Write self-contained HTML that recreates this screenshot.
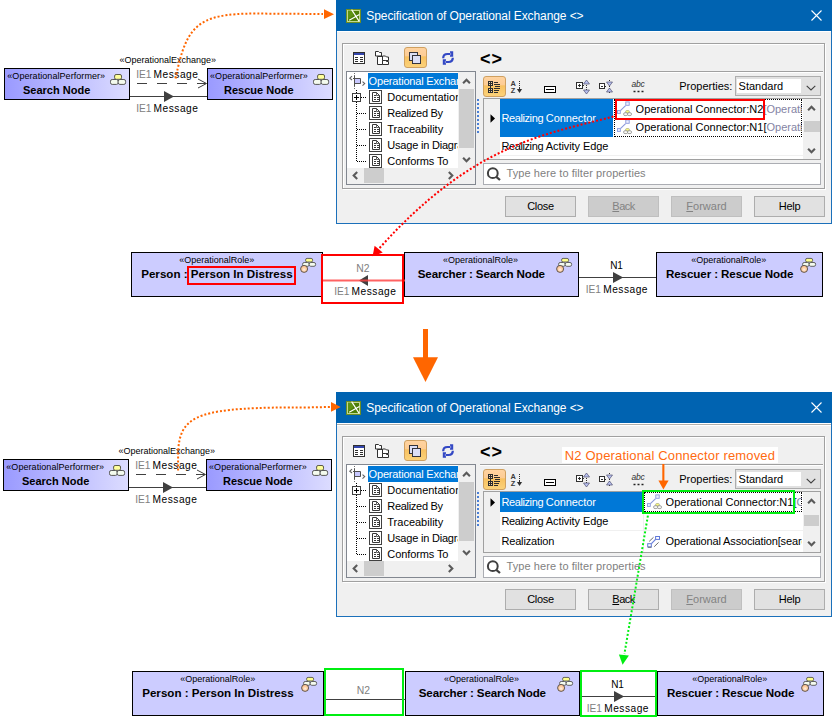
<!DOCTYPE html>
<html lang="en">
<head>
<meta charset="utf-8">
<title>Specification of Operational Exchange</title>
<style>
html,body{margin:0;padding:0;background:#fff;}
#root{position:relative;width:832px;height:727px;overflow:hidden;background:#fff;font-family:"Liberation Sans",sans-serif;}
.t{position:absolute;white-space:nowrap;}
.r{position:absolute;box-sizing:border-box;}
.abs{position:absolute;left:0;top:0;}
svg{position:absolute;overflow:visible;}
.dlg{position:absolute;width:496px;height:224px;}

.node{border:1px solid #000;background:linear-gradient(90deg,#9a9aff 0%,#dcdcff 100%);}
.role{border:1px solid #000;background:#ccccff;}
.st{font-size:9px;}

.dlg{background:#f0f0f0;font-size:11px;}
.tb{background:#0063b1;}
.btn{border:1px solid #adadad;background:#e1e1e1;text-align:center;font-size:11px;line-height:19px;color:#000;}
.btn.dis{border-color:#bfbfbf;background:#cccccc;color:#838383;}
.selbtn{border:1px solid #cfa060;border-radius:3px;background:linear-gradient(180deg,#ffd3a0 0%,#fdcc94 42%,#f8c160 46%,#fbd27a 100%);}
.u{text-decoration:underline;}
</style>
</head>
<body>
<div id="root">
<div class="abs" style="left:0px;top:0px"><div class="r node" style="left:4px;top:68px;width:126px;height:32px;"></div><div class="r node" style="left:207px;top:68px;width:126px;height:32px;"></div><div class="t " style="left:7.3px;top:72px;font-size:9px;line-height:9px;color:#000;letter-spacing:0.06px;">«OperationalPerformer»</div><div class="t " style="left:23.0px;top:85px;font-size:11px;line-height:11px;color:#000;font-weight:bold;">Search Node</div><div class="t " style="left:210.0px;top:72px;font-size:9px;line-height:9px;color:#000;letter-spacing:0.06px;">«OperationalPerformer»</div><div class="t " style="left:224.0px;top:85px;font-size:11px;line-height:11px;color:#000;font-weight:bold;">Rescue Node</div><svg style="left:110px;top:74px" width="17" height="12" viewBox="0 0 17 12">
<rect x="4.6" y="0.5" width="6.9" height="4.8" rx="1.5" fill="#ffff9c" stroke="#5c5c48" stroke-width="1"/>
<rect x="0.5" y="5.5" width="7.7" height="4.9" rx="1.7" fill="#f4fbee" stroke="#585858" stroke-width="1"/>
<rect x="8.2" y="5.5" width="7.4" height="4.9" rx="1.7" fill="#f4fbee" stroke="#585858" stroke-width="1"/>
</svg><svg style="left:313px;top:74px" width="17" height="12" viewBox="0 0 17 12">
<rect x="4.6" y="0.5" width="6.9" height="4.8" rx="1.5" fill="#ffff9c" stroke="#5c5c48" stroke-width="1"/>
<rect x="0.5" y="5.5" width="7.7" height="4.9" rx="1.7" fill="#f4fbee" stroke="#585858" stroke-width="1"/>
<rect x="8.2" y="5.5" width="7.4" height="4.9" rx="1.7" fill="#f4fbee" stroke="#585858" stroke-width="1"/>
</svg><div class="t " style="left:119.4px;top:56px;font-size:9px;line-height:9px;color:#000;">«OperationalExchange»</div><div class="t " style="left:136.2px;top:70px;font-size:10.2px;line-height:10.2px;color:#000;"><span style="color:#808080;letter-spacing:-0.05px">IE1</span><span style="letter-spacing:0.5px;margin-left:-1.1px"> Message</span></div><div class="t " style="left:136.2px;top:104px;font-size:10.2px;line-height:10.2px;color:#000;"><span style="color:#808080;letter-spacing:-0.05px">IE1</span><span style="letter-spacing:0.5px;margin-left:-1.1px"> Message</span></div><svg style="left:0;top:0" width="340" height="120" viewBox="0 0 340 120">
<line x1="137" y1="83.5" x2="206" y2="83.5" stroke="#404040" stroke-width="1" stroke-dasharray="10 10"/>
<polyline points="198,79 206.5,83.5 198,88" fill="none" stroke="#404040" stroke-width="1"/>
<line x1="130" y1="96.5" x2="207" y2="96.5" stroke="#404040" stroke-width="1"/>
<polygon points="164,91 174,96.5 164,102" fill="#404040"/>
</svg></div><div class="abs" style="left:-1px;top:391px"><div class="r node" style="left:4px;top:68px;width:126px;height:32px;"></div><div class="r node" style="left:207px;top:68px;width:126px;height:32px;"></div><div class="t " style="left:7.3px;top:72px;font-size:9px;line-height:9px;color:#000;letter-spacing:0.06px;">«OperationalPerformer»</div><div class="t " style="left:23.0px;top:85px;font-size:11px;line-height:11px;color:#000;font-weight:bold;">Search Node</div><div class="t " style="left:210.0px;top:72px;font-size:9px;line-height:9px;color:#000;letter-spacing:0.06px;">«OperationalPerformer»</div><div class="t " style="left:224.0px;top:85px;font-size:11px;line-height:11px;color:#000;font-weight:bold;">Rescue Node</div><svg style="left:110px;top:74px" width="17" height="12" viewBox="0 0 17 12">
<rect x="4.6" y="0.5" width="6.9" height="4.8" rx="1.5" fill="#ffff9c" stroke="#5c5c48" stroke-width="1"/>
<rect x="0.5" y="5.5" width="7.7" height="4.9" rx="1.7" fill="#f4fbee" stroke="#585858" stroke-width="1"/>
<rect x="8.2" y="5.5" width="7.4" height="4.9" rx="1.7" fill="#f4fbee" stroke="#585858" stroke-width="1"/>
</svg><svg style="left:313px;top:74px" width="17" height="12" viewBox="0 0 17 12">
<rect x="4.6" y="0.5" width="6.9" height="4.8" rx="1.5" fill="#ffff9c" stroke="#5c5c48" stroke-width="1"/>
<rect x="0.5" y="5.5" width="7.7" height="4.9" rx="1.7" fill="#f4fbee" stroke="#585858" stroke-width="1"/>
<rect x="8.2" y="5.5" width="7.4" height="4.9" rx="1.7" fill="#f4fbee" stroke="#585858" stroke-width="1"/>
</svg><div class="t " style="left:119.4px;top:56px;font-size:9px;line-height:9px;color:#000;">«OperationalExchange»</div><div class="t " style="left:136.2px;top:70px;font-size:10.2px;line-height:10.2px;color:#000;"><span style="color:#808080;letter-spacing:-0.05px">IE1</span><span style="letter-spacing:0.5px;margin-left:-1.1px"> Message</span></div><div class="t " style="left:136.2px;top:104px;font-size:10.2px;line-height:10.2px;color:#000;"><span style="color:#808080;letter-spacing:-0.05px">IE1</span><span style="letter-spacing:0.5px;margin-left:-1.1px"> Message</span></div><svg style="left:0;top:0" width="340" height="120" viewBox="0 0 340 120">
<line x1="137" y1="83.5" x2="206" y2="83.5" stroke="#404040" stroke-width="1" stroke-dasharray="10 10"/>
<polyline points="198,79 206.5,83.5 198,88" fill="none" stroke="#404040" stroke-width="1"/>
<line x1="130" y1="96.5" x2="207" y2="96.5" stroke="#404040" stroke-width="1"/>
<polygon points="164,91 174,96.5 164,102" fill="#404040"/>
</svg></div><div class="dlg" style="left:336px;top:0px;height:224px"><div class="r " style="left:0px;top:0px;width:496px;height:224px;border:1px solid #1b70ba;"></div><div class="r tb" style="left:0px;top:0px;width:496px;height:31px;"></div><div class="r " style="left:1px;top:31px;width:494px;height:1px;background:#fff;"></div><svg style="left:10px;top:9px" width="15" height="14" viewBox="0 0 15 14">
<rect x="0" y="0" width="15" height="14" fill="#6e8e22"/>
<rect x="1.5" y="1.5" width="12" height="11" fill="#4e7e06" stroke="#c2d890"/>
<path d="M2 1.5h5v5l-5 4z" fill="#5e9212"/>
<path d="M5.6 0.6L13.2 12.4M3.2 11.2L13.4 5.4" stroke="#fff" stroke-width="1.15" fill="none"/>
</svg><div class="t " style="left:30.3px;top:10px;font-size:12px;line-height:12px;color:#fff;letter-spacing:-0.09px;">Specification of Operational Exchange &lt;&gt;</div><svg style="left:475px;top:10px" width="11" height="11" viewBox="0 0 11 11">
<path d="M0.5 0.5L10.5 10.5M10.5 0.5L0.5 10.5" stroke="#fff" stroke-width="1.1" fill="none"/></svg><div class="abs" style="top:0px"><div class="r " style="left:7px;top:44px;width:483px;height:146px;border:1px solid #fff;"></div><div class="r " style="left:6px;top:43px;width:483px;height:146px;border:1px solid #a0a0a0;"></div><svg style="left:17px;top:52px" width="12" height="12" viewBox="0 0 12 12">
<rect x="0.5" y="0.5" width="11" height="11" fill="#fff" stroke="#303030"/>
<rect x="1" y="1" width="10" height="2" fill="#3446ae"/>
<path d="M2 5.5h3M7 5.5h3M2 7.5h3M7 7.5h3M2 9.5h3M7 9.5h3" stroke="#303030" fill="none"/>
</svg><svg style="left:39px;top:51px" width="15" height="14" viewBox="0 0 15 14">
<path d="M2.5 5.5h5v8h-5z" fill="#fff" stroke="#303030"/>
<path d="M0.5 0.5h3l1 1h2v3.5h-6z" fill="#fff" stroke="#303030"/>
<path d="M7.5 5h3l1 1h2v3.5h-6z" fill="#fff" stroke="#303030"/>
<path d="M7.5 9.5h3l1 1h2v3h-6z" fill="#fff" stroke="#303030"/>
</svg><div class="r selbtn" style="left:68px;top:47px;width:23px;height:21px;"></div><svg style="left:73px;top:52px" width="12" height="12" viewBox="0 0 12 12">
<rect x="0.5" y="0.5" width="8" height="8" fill="#dcdff6" stroke="#34343c"/>
<rect x="3.5" y="3.5" width="8" height="8" fill="#dcdff6" stroke="#34343c"/>
</svg><svg style="left:106px;top:51px" width="12" height="14" viewBox="0 0 12 14">
<path d="M1.2 7.2q0-4.2 4.3-4.2h3" stroke="#3348c4" stroke-width="2.2" fill="none"/>
<path d="M8 0.2h3.2v5.6h-3.2l0-1.2 1.4-1.6-1.4-1.6z" fill="#3348c4"/>
<path d="M10.8 6.8q0 4.2-4.3 4.2h-3" stroke="#3348c4" stroke-width="2.2" fill="none"/>
<path d="M4 13.8h-3.2v-5.6h3.2l0 1.2-1.4 1.6 1.4 1.6z" fill="#3348c4"/>
</svg><div class="t " style="left:144px;top:50px;font-size:18px;line-height:18px;color:#000;font-weight:bold;letter-spacing:1px;">&lt;&gt;</div><div class="r " style="left:10px;top:71px;width:130px;height:114px;border:1px solid #828790;background:#f0f0f0;"></div><div class="r " style="left:11px;top:72px;width:111px;height:96px;background:#fff;overflow:hidden;"></div><div class="r " style="left:32px;top:73px;width:90px;height:16px;background:#0078d7;"></div><div class="t " style="left:32.6px;top:76px;font-size:11px;line-height:11px;color:#fff;width:89.4px;overflow:hidden;letter-spacing:-0.18px;">Operational Exchange</div><svg style="left:13px;top:74px" width="17" height="16" viewBox="0 0 17 16">
<path d="M5.5 -1v3M5.5 12v3" stroke="#707070" stroke-dasharray="1 1" fill="none"/>
<rect x="6" y="4.5" width="5" height="5" fill="#c8c8ff"/>
<path d="M5.5 2v10M4 4.5h7.5v5.2M5.5 9.5h6" stroke="#505050" fill="none"/>
<path d="M3 2.2L0.8 4.2 3 6M13.5 7.6l2.2 2-2.2 2" stroke="#606060" stroke-width="1.1" fill="none"/>
</svg><svg style="left:0;top:0" width="140" height="190" viewBox="0 0 140 190">
<path d="M20.5 90v72" stroke="#000" stroke-dasharray="1 1" fill="none"/>
<path d="M25 97.5h5M21 113.5h9M21 129.5h9M21 145.5h9M21 161.5h9" stroke="#000" stroke-dasharray="1 1" fill="none"/>
<rect x="16.5" y="93.5" width="8" height="8" fill="#fff" stroke="#404040"/>
<path d="M18 97.5h5M20.5 95v5" stroke="#000" fill="none"/>
</svg><div class="r" style="left:0;top:72px;width:122px;height:96px;overflow:hidden;"><div class="abs" style="top:-72px"><svg style="left:33px;top:90px" width="13" height="14" viewBox="0 0 13 14">
<rect x="0.5" y="0.5" width="12" height="13" fill="#fff" stroke="#404040"/>
<path d="M3.5 2.5h4l3 3v6h-7z" fill="#fff" stroke="#383838"/>
<path d="M7.5 2.5v3h3" fill="none" stroke="#383838" stroke-width="0.8"/>
<g shape-rendering="crispEdges"><path d="M5 5.5h2M5 7.5h2M8 7.5h2M5 9.5h2M8 9.5h2" stroke="#383838" fill="none"/></g>
</svg><div class="t " style="left:51.3px;top:92px;font-size:11px;line-height:11px;color:#000;">Documentation</div><svg style="left:33px;top:106px" width="13" height="14" viewBox="0 0 13 14">
<rect x="0.5" y="0.5" width="12" height="13" fill="#fff" stroke="#404040"/>
<path d="M3.5 2.5h4l3 3v6h-7z" fill="#fff" stroke="#383838"/>
<path d="M7.5 2.5v3h3" fill="none" stroke="#383838" stroke-width="0.8"/>
<g shape-rendering="crispEdges"><path d="M5 5.5h2M5 7.5h2M8 7.5h2M5 9.5h2M8 9.5h2" stroke="#383838" fill="none"/></g>
</svg><div class="t " style="left:51.3px;top:108px;font-size:11px;line-height:11px;color:#000;letter-spacing:-0.3px;">Realized By</div><svg style="left:33px;top:122px" width="13" height="14" viewBox="0 0 13 14">
<rect x="0.5" y="0.5" width="12" height="13" fill="#fff" stroke="#404040"/>
<path d="M3.5 2.5h4l3 3v6h-7z" fill="#fff" stroke="#383838"/>
<path d="M7.5 2.5v3h3" fill="none" stroke="#383838" stroke-width="0.8"/>
<g shape-rendering="crispEdges"><path d="M5 5.5h2M5 7.5h2M8 7.5h2M5 9.5h2M8 9.5h2" stroke="#383838" fill="none"/></g>
</svg><div class="t " style="left:51.3px;top:124px;font-size:11px;line-height:11px;color:#000;">Traceability</div><svg style="left:33px;top:138px" width="13" height="14" viewBox="0 0 13 14">
<rect x="0.5" y="0.5" width="12" height="13" fill="#fff" stroke="#404040"/>
<path d="M3.5 2.5h4l3 3v6h-7z" fill="#fff" stroke="#383838"/>
<path d="M7.5 2.5v3h3" fill="none" stroke="#383838" stroke-width="0.8"/>
<g shape-rendering="crispEdges"><path d="M5 5.5h2M5 7.5h2M8 7.5h2M5 9.5h2M8 9.5h2" stroke="#383838" fill="none"/></g>
</svg><div class="t " style="left:51.3px;top:140px;font-size:11px;line-height:11px;color:#000;letter-spacing:-0.2px;">Usage in Diagrams</div><svg style="left:33px;top:154px" width="13" height="14" viewBox="0 0 13 14">
<rect x="0.5" y="0.5" width="12" height="13" fill="#fff" stroke="#404040"/>
<path d="M3.5 2.5h4l3 3v6h-7z" fill="#fff" stroke="#383838"/>
<path d="M7.5 2.5v3h3" fill="none" stroke="#383838" stroke-width="0.8"/>
<g shape-rendering="crispEdges"><path d="M5 5.5h2M5 7.5h2M8 7.5h2M5 9.5h2M8 9.5h2" stroke="#383838" fill="none"/></g>
</svg><div class="t " style="left:51.3px;top:156px;font-size:11px;line-height:11px;color:#000;letter-spacing:-0.1px;">Conforms To</div></div></div><div class="r " style="left:122px;top:72px;width:17px;height:96px;background:#f0f0f0;"></div><div class="r " style="left:123px;top:89px;width:15px;height:59px;background:#cdcdcd;"></div><svg style="left:126px;top:78px" width="9" height="6" viewBox="0 0 9 6"><path d="M1.1 5.2L4.5 1.7 7.9 5.2" stroke="#5a5a5a" stroke-width="2.1" fill="none"/></svg><svg style="left:126px;top:157px" width="9" height="6" viewBox="0 0 9 6"><path d="M1.1 0.8L4.5 4.3 7.9 0.8" stroke="#5a5a5a" stroke-width="2.1" fill="none"/></svg><div class="r " style="left:11px;top:168px;width:128px;height:16px;background:#f0f0f0;"></div><div class="r " style="left:28px;top:168px;width:20px;height:15px;background:#cdcdcd;"></div><svg style="left:16px;top:171px" width="6" height="9" viewBox="0 0 6 9"><path d="M5.2 1.1L1.7 4.5 5.2 7.9" stroke="#5a5a5a" stroke-width="2.1" fill="none"/></svg><svg style="left:112px;top:171px" width="6" height="9" viewBox="0 0 6 9"><path d="M0.8 1.1L4.3 4.5 0.8 7.9" stroke="#5a5a5a" stroke-width="2.1" fill="none"/></svg><svg style="left:141px;top:99px" width="2" height="36" viewBox="0 0 2 36"><rect x="0" y="0" width="2" height="2" fill="#4a7fd6"/><rect x="0" y="4" width="2" height="2" fill="#4a7fd6"/><rect x="0" y="8" width="2" height="2" fill="#4a7fd6"/><rect x="0" y="12" width="2" height="2" fill="#4a7fd6"/><rect x="0" y="16" width="2" height="2" fill="#4a7fd6"/><rect x="0" y="20" width="2" height="2" fill="#4a7fd6"/><rect x="0" y="24" width="2" height="2" fill="#4a7fd6"/><rect x="0" y="28" width="2" height="2" fill="#4a7fd6"/><rect x="0" y="32" width="2" height="2" fill="#4a7fd6"/></svg><div class="r " style="left:144px;top:71px;width:343px;height:1px;background:#a0a0a0;"></div><div class="r " style="left:144px;top:72px;width:343px;height:1px;background:#fff;"></div><div class="r selbtn" style="left:147px;top:76px;width:23px;height:21px;"></div><svg style="left:152px;top:81px" width="13" height="12" viewBox="0 0 13 12" shape-rendering="crispEdges">
<path d="M0.5 0.5h4v4h-4zM0.5 7.5h4v4h-4z" fill="#f8d8a8" stroke="#2c2c2c"/>
<path d="M2.5 0.5v11M0.5 2.5h4M0.5 9.5h4" stroke="#2c2c2c" fill="none"/>
<path d="M6 1.5h4M6 3.5h6M7 5.5h5M6 7.5h6M6 9.5h5M6 11.5h4" stroke="#2c2c2c" fill="none"/>
</svg><svg style="left:174px;top:80px" width="13" height="14" viewBox="0 0 13 14">
<text x="0.6" y="6.4" font-family="Liberation Sans, sans-serif" font-size="7.4" font-weight="bold" fill="#3a3a3a">A</text>
<text x="0.8" y="12.8" font-family="Liberation Sans, sans-serif" font-size="7.4" font-weight="bold" fill="#3a3a3a">Z</text>
<path d="M9.5 1v7" stroke="#303030" stroke-dasharray="1 1" fill="none"/>
<path d="M9.5 7v3" stroke="#303030" fill="none"/>
<path d="M6.9 9h5.2l-2.6 4z" fill="#303030"/>
</svg><svg style="left:208px;top:86px" width="12" height="7" viewBox="0 0 12 7">
<rect x="0.5" y="0.5" width="11" height="6" fill="#fff" stroke="#000"/>
<path d="M2 3.5h8" stroke="#000" fill="none"/>
</svg><svg style="left:240px;top:80px" width="15" height="14" viewBox="0 0 15 14">
<rect x="0.5" y="2.5" width="6" height="6" fill="#fff" stroke="#303030"/>
<path d="M2 5.5h3M3.5 4v3" stroke="#303030" fill="none"/>
<path d="M7 5.5h2M10.5 3v8" stroke="#303030" stroke-dasharray="1 1" fill="none"/>
<path d="M10.5 0l3 4h-6z" fill="#b8c0f0" stroke="#505070" stroke-width="0.7"/>
<path d="M10.5 14l3-4h-6z" fill="#b8c0f0" stroke="#505070" stroke-width="0.7"/>
</svg><svg style="left:263px;top:80px" width="15" height="14" viewBox="0 0 15 14">
<rect x="0.5" y="3.5" width="5" height="5" fill="#fff" stroke="#303030"/>
<path d="M2 6.5h2" stroke="#303030" fill="none"/>
<path d="M6 6.5h2M10.5 0v14" stroke="#303030" stroke-dasharray="1 1" fill="none"/>
<path d="M10.5 6l3-4h-6z" fill="#b8c0f0" stroke="#505070" stroke-width="0.7"/>
<path d="M10.5 8l3 4h-6z" fill="#b8c0f0" stroke="#505070" stroke-width="0.7"/>
</svg><div class="t " style="left:295.5px;top:80px;font-size:8.5px;line-height:8.5px;color:#303030;font-style:italic;letter-spacing:-0.2px;">abc</div><svg style="left:297px;top:90px" width="11" height="3" viewBox="0 0 11 3"><path d="M0.5 1.5h2M4.5 1.5h2M8.5 1.5h2" stroke="#202020" stroke-width="1.6" fill="none"/></svg><div class="t " style="left:343.2px;top:81px;font-size:11px;line-height:11px;color:#000;">Properties:</div><div class="r " style="left:399px;top:76px;width:86px;height:20px;border:1px solid #adadad;background:#e1e1e1;"></div><div class="r " style="left:401px;top:79px;width:64px;height:14px;background:#fff;"></div><div class="t " style="left:402.6px;top:81px;font-size:11px;line-height:11px;color:#000;">Standard</div><svg style="left:470px;top:85px" width="10" height="6" viewBox="0 0 10 6"><path d="M0.7 0.8L5 5 9.3 0.8" stroke="#404040" stroke-width="1.1" fill="none"/></svg><div class="r " style="left:147px;top:98px;width:338px;height:62px;border:1px solid #a0a0a0;background:#fff;"></div><div class="r " style="left:148px;top:99px;width:16px;height:60px;background:#f0f0f0;"></div><div class="r " style="left:467px;top:99px;width:17px;height:60px;background:#f0f0f0;"></div><svg style="left:471px;top:105px" width="9" height="6" viewBox="0 0 9 6"><path d="M1.1 5.2L4.5 1.7 7.9 5.2" stroke="#5a5a5a" stroke-width="2.1" fill="none"/></svg><svg style="left:471px;top:148px" width="9" height="6" viewBox="0 0 9 6"><path d="M1.1 0.8L4.5 4.3 7.9 0.8" stroke="#5a5a5a" stroke-width="2.1" fill="none"/></svg><div class="r " style="left:468px;top:121px;width:16px;height:11px;background:#cdcdcd;"></div><div class="r " style="left:164px;top:99px;width:113px;height:38px;background:#0078d7;"></div><svg style="left:154px;top:114px" width="6" height="9" viewBox="0 0 6 9"><path d="M0.5 0.3L5 4.5 0.5 8.7z" fill="#000"/></svg><div class="t " style="left:165.4px;top:113px;font-size:11px;line-height:11px;color:#fff;letter-spacing:-0.07px;"><span style="letter-spacing:-0.39px">Realizing </span>Connector</div><div class="t " style="left:165.4px;top:141px;font-size:11px;line-height:11px;color:#000;letter-spacing:-0.08px;"><span style="letter-spacing:-0.39px">Realizing </span>Activity Edge</div><div class="r " style="left:164px;top:155px;width:303px;height:1px;background:#f0f0f0;"></div><div class="r " style="left:278px;top:99px;width:188px;height:38px;border:1px dotted #000;"></div><svg style="left:280px;top:101px" width="16" height="16" viewBox="0 0 16 16">
<path d="M4.4 9.6L9.6 4.6" stroke="#8a98dc" stroke-width="1.1" fill="none"/>
<rect x="9.8" y="0.9" width="3.4" height="3.4" fill="#eef0ff" stroke="#8a98dc" stroke-width="0.9"/>
<rect x="1.5" y="9.6" width="2.8" height="2.8" fill="#eef0ff" stroke="#8a98dc" stroke-width="0.9"/>
<rect x="9.6" y="9.6" width="3.8" height="2.4" rx="1.1" fill="#ffff80" stroke="#a0a080" stroke-width="0.7"/>
<rect x="7.6" y="11.7" width="4" height="2.9" rx="1.4" fill="#fafaf4" stroke="#8c8c8c" stroke-width="0.8"/>
<rect x="11.5" y="11.7" width="4" height="2.9" rx="1.4" fill="#fafaf4" stroke="#8c8c8c" stroke-width="0.8"/>
</svg><svg style="left:280px;top:119px" width="16" height="16" viewBox="0 0 16 16">
<path d="M4.4 9.6L9.6 4.6" stroke="#8a98dc" stroke-width="1.1" fill="none"/>
<rect x="9.8" y="0.9" width="3.4" height="3.4" fill="#eef0ff" stroke="#8a98dc" stroke-width="0.9"/>
<rect x="1.5" y="9.6" width="2.8" height="2.8" fill="#eef0ff" stroke="#8a98dc" stroke-width="0.9"/>
<rect x="9.6" y="9.6" width="3.8" height="2.4" rx="1.1" fill="#ffff80" stroke="#a0a080" stroke-width="0.7"/>
<rect x="7.6" y="11.7" width="4" height="2.9" rx="1.4" fill="#fafaf4" stroke="#8c8c8c" stroke-width="0.8"/>
<rect x="11.5" y="11.7" width="4" height="2.9" rx="1.4" fill="#fafaf4" stroke="#8c8c8c" stroke-width="0.8"/>
</svg><div class="t " style="left:299.6px;top:104px;font-size:11px;line-height:11px;color:#000;width:166.5px;overflow:hidden;">Operational Connector:N2<span style="color:#8484a4">[Operational</span></div><div class="t " style="left:299.6px;top:122px;font-size:11px;line-height:11px;color:#000;width:166.5px;overflow:hidden;">Operational Connector:N1[<span style="color:#8484a4">Operational</span></div><div class="r " style="left:279px;top:99px;width:150px;height:21px;border:2px solid #ff0000;"></div><div class="r " style="left:147px;top:163px;width:338px;height:22px;border:1px solid #abadb3;background:#fff;"></div><svg style="left:150px;top:167px" width="15" height="14" viewBox="0 0 15 14">
<circle cx="6.8" cy="6.2" r="4.9" fill="none" stroke="#404040" stroke-width="2"/>
<path d="M10.3 9.8L14 13" stroke="#404040" stroke-width="2.2" fill="none"/></svg><div class="t " style="left:170.6px;top:168px;font-size:11px;line-height:11px;color:#7f7f7f;letter-spacing:0.07px;">Type here to filter properties</div><div class="r btn" style="left:169px;top:196px;width:71px;height:21px;"><span style="letter-spacing:-0.3px">Close</span></div><div class="r btn dis" style="left:252px;top:196px;width:71px;height:21px;"><span style="letter-spacing:-0.55px"><span class="u">B</span>ack</span></div><div class="r btn dis" style="left:335px;top:196px;width:71px;height:21px;"><span class="u">F</span>orward</div><div class="r btn" style="left:418px;top:196px;width:71px;height:21px;"><span style="letter-spacing:-0.3px">Help</span></div></div></div><div class="dlg" style="left:336px;top:392px;height:225px"><div class="r " style="left:0px;top:0px;width:496px;height:225px;border:1px solid #1b70ba;"></div><div class="r tb" style="left:0px;top:0px;width:496px;height:31px;"></div><div class="r " style="left:1px;top:31px;width:494px;height:1px;background:#fff;"></div><div class="r " style="left:1px;top:32px;width:494px;height:1px;background:#b4b0aa;"></div><div class="r " style="left:1px;top:33px;width:494px;height:1px;background:#fff;"></div><svg style="left:10px;top:9px" width="15" height="14" viewBox="0 0 15 14">
<rect x="0" y="0" width="15" height="14" fill="#6e8e22"/>
<rect x="1.5" y="1.5" width="12" height="11" fill="#4e7e06" stroke="#c2d890"/>
<path d="M2 1.5h5v5l-5 4z" fill="#5e9212"/>
<path d="M5.6 0.6L13.2 12.4M3.2 11.2L13.4 5.4" stroke="#fff" stroke-width="1.15" fill="none"/>
</svg><div class="t " style="left:30.3px;top:10px;font-size:12px;line-height:12px;color:#fff;letter-spacing:-0.09px;">Specification of Operational Exchange &lt;&gt;</div><svg style="left:475px;top:10px" width="11" height="11" viewBox="0 0 11 11">
<path d="M0.5 0.5L10.5 10.5M10.5 0.5L0.5 10.5" stroke="#fff" stroke-width="1.1" fill="none"/></svg><div class="abs" style="top:1px"><div class="r " style="left:7px;top:44px;width:483px;height:146px;border:1px solid #fff;"></div><div class="r " style="left:6px;top:43px;width:483px;height:146px;border:1px solid #a0a0a0;"></div><svg style="left:17px;top:52px" width="12" height="12" viewBox="0 0 12 12">
<rect x="0.5" y="0.5" width="11" height="11" fill="#fff" stroke="#303030"/>
<rect x="1" y="1" width="10" height="2" fill="#3446ae"/>
<path d="M2 5.5h3M7 5.5h3M2 7.5h3M7 7.5h3M2 9.5h3M7 9.5h3" stroke="#303030" fill="none"/>
</svg><svg style="left:39px;top:51px" width="15" height="14" viewBox="0 0 15 14">
<path d="M2.5 5.5h5v8h-5z" fill="#fff" stroke="#303030"/>
<path d="M0.5 0.5h3l1 1h2v3.5h-6z" fill="#fff" stroke="#303030"/>
<path d="M7.5 5h3l1 1h2v3.5h-6z" fill="#fff" stroke="#303030"/>
<path d="M7.5 9.5h3l1 1h2v3h-6z" fill="#fff" stroke="#303030"/>
</svg><div class="r selbtn" style="left:68px;top:47px;width:23px;height:21px;"></div><svg style="left:73px;top:52px" width="12" height="12" viewBox="0 0 12 12">
<rect x="0.5" y="0.5" width="8" height="8" fill="#dcdff6" stroke="#34343c"/>
<rect x="3.5" y="3.5" width="8" height="8" fill="#dcdff6" stroke="#34343c"/>
</svg><svg style="left:106px;top:51px" width="12" height="14" viewBox="0 0 12 14">
<path d="M1.2 7.2q0-4.2 4.3-4.2h3" stroke="#3348c4" stroke-width="2.2" fill="none"/>
<path d="M8 0.2h3.2v5.6h-3.2l0-1.2 1.4-1.6-1.4-1.6z" fill="#3348c4"/>
<path d="M10.8 6.8q0 4.2-4.3 4.2h-3" stroke="#3348c4" stroke-width="2.2" fill="none"/>
<path d="M4 13.8h-3.2v-5.6h3.2l0 1.2-1.4 1.6 1.4 1.6z" fill="#3348c4"/>
</svg><div class="t " style="left:144px;top:50px;font-size:18px;line-height:18px;color:#000;font-weight:bold;letter-spacing:1px;">&lt;&gt;</div><div class="r " style="left:10px;top:71px;width:130px;height:114px;border:1px solid #828790;background:#f0f0f0;"></div><div class="r " style="left:11px;top:72px;width:111px;height:96px;background:#fff;overflow:hidden;"></div><div class="r " style="left:32px;top:73px;width:90px;height:16px;background:#0078d7;"></div><div class="t " style="left:32.6px;top:76px;font-size:11px;line-height:11px;color:#fff;width:89.4px;overflow:hidden;letter-spacing:-0.18px;">Operational Exchange</div><svg style="left:13px;top:74px" width="17" height="16" viewBox="0 0 17 16">
<path d="M5.5 -1v3M5.5 12v3" stroke="#707070" stroke-dasharray="1 1" fill="none"/>
<rect x="6" y="4.5" width="5" height="5" fill="#c8c8ff"/>
<path d="M5.5 2v10M4 4.5h7.5v5.2M5.5 9.5h6" stroke="#505050" fill="none"/>
<path d="M3 2.2L0.8 4.2 3 6M13.5 7.6l2.2 2-2.2 2" stroke="#606060" stroke-width="1.1" fill="none"/>
</svg><svg style="left:0;top:0" width="140" height="190" viewBox="0 0 140 190">
<path d="M20.5 90v72" stroke="#000" stroke-dasharray="1 1" fill="none"/>
<path d="M25 97.5h5M21 113.5h9M21 129.5h9M21 145.5h9M21 161.5h9" stroke="#000" stroke-dasharray="1 1" fill="none"/>
<rect x="16.5" y="93.5" width="8" height="8" fill="#fff" stroke="#404040"/>
<path d="M18 97.5h5M20.5 95v5" stroke="#000" fill="none"/>
</svg><div class="r" style="left:0;top:72px;width:122px;height:96px;overflow:hidden;"><div class="abs" style="top:-72px"><svg style="left:33px;top:90px" width="13" height="14" viewBox="0 0 13 14">
<rect x="0.5" y="0.5" width="12" height="13" fill="#fff" stroke="#404040"/>
<path d="M3.5 2.5h4l3 3v6h-7z" fill="#fff" stroke="#383838"/>
<path d="M7.5 2.5v3h3" fill="none" stroke="#383838" stroke-width="0.8"/>
<g shape-rendering="crispEdges"><path d="M5 5.5h2M5 7.5h2M8 7.5h2M5 9.5h2M8 9.5h2" stroke="#383838" fill="none"/></g>
</svg><div class="t " style="left:51.3px;top:92px;font-size:11px;line-height:11px;color:#000;">Documentation</div><svg style="left:33px;top:106px" width="13" height="14" viewBox="0 0 13 14">
<rect x="0.5" y="0.5" width="12" height="13" fill="#fff" stroke="#404040"/>
<path d="M3.5 2.5h4l3 3v6h-7z" fill="#fff" stroke="#383838"/>
<path d="M7.5 2.5v3h3" fill="none" stroke="#383838" stroke-width="0.8"/>
<g shape-rendering="crispEdges"><path d="M5 5.5h2M5 7.5h2M8 7.5h2M5 9.5h2M8 9.5h2" stroke="#383838" fill="none"/></g>
</svg><div class="t " style="left:51.3px;top:108px;font-size:11px;line-height:11px;color:#000;letter-spacing:-0.3px;">Realized By</div><svg style="left:33px;top:122px" width="13" height="14" viewBox="0 0 13 14">
<rect x="0.5" y="0.5" width="12" height="13" fill="#fff" stroke="#404040"/>
<path d="M3.5 2.5h4l3 3v6h-7z" fill="#fff" stroke="#383838"/>
<path d="M7.5 2.5v3h3" fill="none" stroke="#383838" stroke-width="0.8"/>
<g shape-rendering="crispEdges"><path d="M5 5.5h2M5 7.5h2M8 7.5h2M5 9.5h2M8 9.5h2" stroke="#383838" fill="none"/></g>
</svg><div class="t " style="left:51.3px;top:124px;font-size:11px;line-height:11px;color:#000;">Traceability</div><svg style="left:33px;top:138px" width="13" height="14" viewBox="0 0 13 14">
<rect x="0.5" y="0.5" width="12" height="13" fill="#fff" stroke="#404040"/>
<path d="M3.5 2.5h4l3 3v6h-7z" fill="#fff" stroke="#383838"/>
<path d="M7.5 2.5v3h3" fill="none" stroke="#383838" stroke-width="0.8"/>
<g shape-rendering="crispEdges"><path d="M5 5.5h2M5 7.5h2M8 7.5h2M5 9.5h2M8 9.5h2" stroke="#383838" fill="none"/></g>
</svg><div class="t " style="left:51.3px;top:140px;font-size:11px;line-height:11px;color:#000;letter-spacing:-0.2px;">Usage in Diagrams</div><svg style="left:33px;top:154px" width="13" height="14" viewBox="0 0 13 14">
<rect x="0.5" y="0.5" width="12" height="13" fill="#fff" stroke="#404040"/>
<path d="M3.5 2.5h4l3 3v6h-7z" fill="#fff" stroke="#383838"/>
<path d="M7.5 2.5v3h3" fill="none" stroke="#383838" stroke-width="0.8"/>
<g shape-rendering="crispEdges"><path d="M5 5.5h2M5 7.5h2M8 7.5h2M5 9.5h2M8 9.5h2" stroke="#383838" fill="none"/></g>
</svg><div class="t " style="left:51.3px;top:156px;font-size:11px;line-height:11px;color:#000;letter-spacing:-0.1px;">Conforms To</div></div></div><div class="r " style="left:122px;top:72px;width:17px;height:96px;background:#f0f0f0;"></div><div class="r " style="left:123px;top:89px;width:15px;height:59px;background:#cdcdcd;"></div><svg style="left:126px;top:78px" width="9" height="6" viewBox="0 0 9 6"><path d="M1.1 5.2L4.5 1.7 7.9 5.2" stroke="#5a5a5a" stroke-width="2.1" fill="none"/></svg><svg style="left:126px;top:157px" width="9" height="6" viewBox="0 0 9 6"><path d="M1.1 0.8L4.5 4.3 7.9 0.8" stroke="#5a5a5a" stroke-width="2.1" fill="none"/></svg><div class="r " style="left:11px;top:168px;width:128px;height:16px;background:#f0f0f0;"></div><div class="r " style="left:28px;top:168px;width:20px;height:15px;background:#cdcdcd;"></div><svg style="left:16px;top:171px" width="6" height="9" viewBox="0 0 6 9"><path d="M5.2 1.1L1.7 4.5 5.2 7.9" stroke="#5a5a5a" stroke-width="2.1" fill="none"/></svg><svg style="left:112px;top:171px" width="6" height="9" viewBox="0 0 6 9"><path d="M0.8 1.1L4.3 4.5 0.8 7.9" stroke="#5a5a5a" stroke-width="2.1" fill="none"/></svg><svg style="left:141px;top:99px" width="2" height="36" viewBox="0 0 2 36"><rect x="0" y="0" width="2" height="2" fill="#4a7fd6"/><rect x="0" y="4" width="2" height="2" fill="#4a7fd6"/><rect x="0" y="8" width="2" height="2" fill="#4a7fd6"/><rect x="0" y="12" width="2" height="2" fill="#4a7fd6"/><rect x="0" y="16" width="2" height="2" fill="#4a7fd6"/><rect x="0" y="20" width="2" height="2" fill="#4a7fd6"/><rect x="0" y="24" width="2" height="2" fill="#4a7fd6"/><rect x="0" y="28" width="2" height="2" fill="#4a7fd6"/><rect x="0" y="32" width="2" height="2" fill="#4a7fd6"/></svg><div class="r " style="left:144px;top:71px;width:343px;height:1px;background:#a0a0a0;"></div><div class="r " style="left:144px;top:72px;width:343px;height:1px;background:#fff;"></div><div class="r selbtn" style="left:147px;top:76px;width:23px;height:21px;"></div><svg style="left:152px;top:81px" width="13" height="12" viewBox="0 0 13 12" shape-rendering="crispEdges">
<path d="M0.5 0.5h4v4h-4zM0.5 7.5h4v4h-4z" fill="#f8d8a8" stroke="#2c2c2c"/>
<path d="M2.5 0.5v11M0.5 2.5h4M0.5 9.5h4" stroke="#2c2c2c" fill="none"/>
<path d="M6 1.5h4M6 3.5h6M7 5.5h5M6 7.5h6M6 9.5h5M6 11.5h4" stroke="#2c2c2c" fill="none"/>
</svg><svg style="left:174px;top:80px" width="13" height="14" viewBox="0 0 13 14">
<text x="0.6" y="6.4" font-family="Liberation Sans, sans-serif" font-size="7.4" font-weight="bold" fill="#3a3a3a">A</text>
<text x="0.8" y="12.8" font-family="Liberation Sans, sans-serif" font-size="7.4" font-weight="bold" fill="#3a3a3a">Z</text>
<path d="M9.5 1v7" stroke="#303030" stroke-dasharray="1 1" fill="none"/>
<path d="M9.5 7v3" stroke="#303030" fill="none"/>
<path d="M6.9 9h5.2l-2.6 4z" fill="#303030"/>
</svg><svg style="left:208px;top:86px" width="12" height="7" viewBox="0 0 12 7">
<rect x="0.5" y="0.5" width="11" height="6" fill="#fff" stroke="#000"/>
<path d="M2 3.5h8" stroke="#000" fill="none"/>
</svg><svg style="left:240px;top:80px" width="15" height="14" viewBox="0 0 15 14">
<rect x="0.5" y="2.5" width="6" height="6" fill="#fff" stroke="#303030"/>
<path d="M2 5.5h3M3.5 4v3" stroke="#303030" fill="none"/>
<path d="M7 5.5h2M10.5 3v8" stroke="#303030" stroke-dasharray="1 1" fill="none"/>
<path d="M10.5 0l3 4h-6z" fill="#b8c0f0" stroke="#505070" stroke-width="0.7"/>
<path d="M10.5 14l3-4h-6z" fill="#b8c0f0" stroke="#505070" stroke-width="0.7"/>
</svg><svg style="left:263px;top:80px" width="15" height="14" viewBox="0 0 15 14">
<rect x="0.5" y="3.5" width="5" height="5" fill="#fff" stroke="#303030"/>
<path d="M2 6.5h2" stroke="#303030" fill="none"/>
<path d="M6 6.5h2M10.5 0v14" stroke="#303030" stroke-dasharray="1 1" fill="none"/>
<path d="M10.5 6l3-4h-6z" fill="#b8c0f0" stroke="#505070" stroke-width="0.7"/>
<path d="M10.5 8l3 4h-6z" fill="#b8c0f0" stroke="#505070" stroke-width="0.7"/>
</svg><div class="t " style="left:295.5px;top:80px;font-size:8.5px;line-height:8.5px;color:#303030;font-style:italic;letter-spacing:-0.2px;">abc</div><svg style="left:297px;top:90px" width="11" height="3" viewBox="0 0 11 3"><path d="M0.5 1.5h2M4.5 1.5h2M8.5 1.5h2" stroke="#202020" stroke-width="1.6" fill="none"/></svg><div class="t " style="left:343.2px;top:81px;font-size:11px;line-height:11px;color:#000;">Properties:</div><div class="r " style="left:399px;top:76px;width:86px;height:20px;border:1px solid #adadad;background:#e1e1e1;"></div><div class="r " style="left:401px;top:79px;width:64px;height:14px;background:#fff;"></div><div class="t " style="left:402.6px;top:81px;font-size:11px;line-height:11px;color:#000;">Standard</div><svg style="left:470px;top:85px" width="10" height="6" viewBox="0 0 10 6"><path d="M0.7 0.8L5 5 9.3 0.8" stroke="#404040" stroke-width="1.1" fill="none"/></svg><div class="r " style="left:147px;top:98px;width:338px;height:62px;border:1px solid #a0a0a0;background:#fff;"></div><div class="r " style="left:148px;top:99px;width:16px;height:60px;background:#f0f0f0;"></div><div class="r " style="left:467px;top:99px;width:17px;height:60px;background:#f0f0f0;"></div><svg style="left:471px;top:105px" width="9" height="6" viewBox="0 0 9 6"><path d="M1.1 5.2L4.5 1.7 7.9 5.2" stroke="#5a5a5a" stroke-width="2.1" fill="none"/></svg><svg style="left:471px;top:148px" width="9" height="6" viewBox="0 0 9 6"><path d="M1.1 0.8L4.5 4.3 7.9 0.8" stroke="#5a5a5a" stroke-width="2.1" fill="none"/></svg><div class="r " style="left:468px;top:122px;width:15px;height:11px;background:#cdcdcd;"></div><div class="r " style="left:164px;top:99px;width:142px;height:20px;background:#0078d7;"></div><svg style="left:154px;top:105px" width="6" height="9" viewBox="0 0 6 9"><path d="M0.5 0.3L5 4.5 0.5 8.7z" fill="#000"/></svg><div class="t " style="left:165.4px;top:104px;font-size:11px;line-height:11px;color:#fff;letter-spacing:-0.07px;"><span style="letter-spacing:-0.39px">Realizing </span>Connector</div><div class="t " style="left:165.4px;top:123px;font-size:11px;line-height:11px;color:#000;letter-spacing:-0.08px;"><span style="letter-spacing:-0.39px">Realizing </span>Activity Edge</div><div class="t " style="left:165.4px;top:143px;font-size:11px;line-height:11px;color:#000;letter-spacing:-0.15px;">Realization</div><div class="r " style="left:164px;top:137px;width:303px;height:1px;background:#f0f0f0;"></div><div class="r " style="left:307px;top:119px;width:1px;height:40px;background:#f0f0f0;"></div><div class="r " style="left:308px;top:99px;width:158px;height:20px;border:1px dotted #000;"></div><svg style="left:310px;top:101px" width="16" height="16" viewBox="0 0 16 16">
<path d="M4.4 9.6L9.6 4.6" stroke="#8a98dc" stroke-width="1.1" fill="none"/>
<rect x="9.8" y="0.9" width="3.4" height="3.4" fill="#eef0ff" stroke="#8a98dc" stroke-width="0.9"/>
<rect x="1.5" y="9.6" width="2.8" height="2.8" fill="#eef0ff" stroke="#8a98dc" stroke-width="0.9"/>
<rect x="9.6" y="9.6" width="3.8" height="2.4" rx="1.1" fill="#ffff80" stroke="#a0a080" stroke-width="0.7"/>
<rect x="7.6" y="11.7" width="4" height="2.9" rx="1.4" fill="#fafaf4" stroke="#8c8c8c" stroke-width="0.8"/>
<rect x="11.5" y="11.7" width="4" height="2.9" rx="1.4" fill="#fafaf4" stroke="#8c8c8c" stroke-width="0.8"/>
</svg><svg style="left:310px;top:142px" width="16" height="16" viewBox="0 0 16 16">
<path d="M5.4 8.6L9.6 4.4" stroke="#6a80dc" stroke-width="1.3" fill="none"/>
<path d="M3.2 6.4L7.5 2.3M8.2 11.7L12.6 7.4" stroke="#5c5c5c" stroke-width="0.9" fill="none"/>
<rect x="9.6" y="1.5" width="3.9" height="2.9" fill="#fff" stroke="#6078d8"/>
<rect x="1.7" y="8.7" width="3.6" height="3.3" fill="#fff" stroke="#6078d8"/>
<path d="M2 12.2h3.4" stroke="#505050" stroke-width="0.8" fill="none"/>
</svg><div class="t " style="left:329.6px;top:104px;font-size:11px;line-height:11px;color:#000;width:136.5px;overflow:hidden;">Operational Connector:N1<span style="color:#1a1a60">[</span><span style="color:#8484a4">Operational</span></div><div class="t " style="left:329.6px;top:143px;font-size:11px;line-height:11px;color:#000;width:136.5px;overflow:hidden;letter-spacing:-0.15px;">Operational Association[search</div><div class="r " style="left:306px;top:97px;width:153px;height:24px;border:2px solid #00ee11;"></div><div class="r " style="left:226px;top:54px;width:216px;height:16px;background:#fff;"></div><div class="t " style="left:228.8px;top:56px;font-size:13px;line-height:13px;color:#ff6a10;letter-spacing:0.16px;">N2 Operational Connector removed</div><div class="r " style="left:147px;top:163px;width:338px;height:22px;border:1px solid #abadb3;background:#fff;"></div><svg style="left:150px;top:167px" width="15" height="14" viewBox="0 0 15 14">
<circle cx="6.8" cy="6.2" r="4.9" fill="none" stroke="#404040" stroke-width="2"/>
<path d="M10.3 9.8L14 13" stroke="#404040" stroke-width="2.2" fill="none"/></svg><div class="t " style="left:170.6px;top:168px;font-size:11px;line-height:11px;color:#7f7f7f;letter-spacing:0.07px;">Type here to filter properties</div><div class="r btn" style="left:169px;top:196px;width:71px;height:21px;"><span style="letter-spacing:-0.3px">Close</span></div><div class="r btn" style="left:252px;top:196px;width:71px;height:21px;"><span style="letter-spacing:-0.55px"><span class="u">B</span>ack</span></div><div class="r btn dis" style="left:335px;top:196px;width:71px;height:21px;"><span class="u">F</span>orward</div><div class="r btn" style="left:418px;top:196px;width:71px;height:21px;"><span style="letter-spacing:-0.3px">Help</span></div></div></div><div class="abs" style="left:0px;top:0px"><div class="r role" style="left:131px;top:252px;width:192px;height:45px;"></div><div class="r role" style="left:404px;top:252px;width:175px;height:45px;"></div><div class="r role" style="left:656px;top:252px;width:167px;height:45px;"></div><div class="t " style="left:179.3px;top:256px;font-size:9px;line-height:9px;color:#000;">«OperationalRole»</div><div class="t " style="left:141.2px;top:268px;font-size:11.6px;line-height:11.6px;color:#000;font-weight:bold;">Person : Person In Distress</div><svg style="left:300px;top:257px" width="17" height="16" viewBox="0 0 17 16">
<defs><radialGradient id="og" cx="0.5" cy="0.6" r="0.6"><stop offset="0" stop-color="#fff2e6"/><stop offset="0.5" stop-color="#ffcfa4"/><stop offset="1" stop-color="#f8b888"/></radialGradient></defs>
<rect x="5.6" y="1.4" width="7" height="3.6" rx="1.5" fill="#ffff8c" stroke="#54544a" stroke-width="0.9"/>
<rect x="2.6" y="5.5" width="6.6" height="3.8" rx="1.6" fill="#f4fbf0" stroke="#545454" stroke-width="0.9"/>
<rect x="9.2" y="5.5" width="6.4" height="3.8" rx="1.6" fill="#f4fbf0" stroke="#545454" stroke-width="0.9"/>
<circle cx="4.1" cy="11.9" r="3.5" fill="url(#og)" stroke="#4e4a46" stroke-width="0.9"/>
</svg><div class="t " style="left:443.0px;top:256px;font-size:9px;line-height:9px;color:#000;">«OperationalRole»</div><div class="t " style="left:417.8px;top:268px;font-size:11.6px;line-height:11.6px;color:#000;font-weight:bold;letter-spacing:-0.17px;">Searcher : Search Node</div><svg style="left:556px;top:257px" width="17" height="16" viewBox="0 0 17 16">
<defs><radialGradient id="og" cx="0.5" cy="0.6" r="0.6"><stop offset="0" stop-color="#fff2e6"/><stop offset="0.5" stop-color="#ffcfa4"/><stop offset="1" stop-color="#f8b888"/></radialGradient></defs>
<rect x="5.6" y="1.4" width="7" height="3.6" rx="1.5" fill="#ffff8c" stroke="#54544a" stroke-width="0.9"/>
<rect x="2.6" y="5.5" width="6.6" height="3.8" rx="1.6" fill="#f4fbf0" stroke="#545454" stroke-width="0.9"/>
<rect x="9.2" y="5.5" width="6.4" height="3.8" rx="1.6" fill="#f4fbf0" stroke="#545454" stroke-width="0.9"/>
<circle cx="4.1" cy="11.9" r="3.5" fill="url(#og)" stroke="#4e4a46" stroke-width="0.9"/>
</svg><div class="t " style="left:691.3px;top:256px;font-size:9px;line-height:9px;color:#000;">«OperationalRole»</div><div class="t " style="left:666.0px;top:268px;font-size:11.6px;line-height:11.6px;color:#000;font-weight:bold;letter-spacing:-0.1px;">Rescuer : Rescue Node</div><svg style="left:800px;top:257px" width="17" height="16" viewBox="0 0 17 16">
<defs><radialGradient id="og" cx="0.5" cy="0.6" r="0.6"><stop offset="0" stop-color="#fff2e6"/><stop offset="0.5" stop-color="#ffcfa4"/><stop offset="1" stop-color="#f8b888"/></radialGradient></defs>
<rect x="5.6" y="1.4" width="7" height="3.6" rx="1.5" fill="#ffff8c" stroke="#54544a" stroke-width="0.9"/>
<rect x="2.6" y="5.5" width="6.6" height="3.8" rx="1.6" fill="#f4fbf0" stroke="#545454" stroke-width="0.9"/>
<rect x="9.2" y="5.5" width="6.4" height="3.8" rx="1.6" fill="#f4fbf0" stroke="#545454" stroke-width="0.9"/>
<circle cx="4.1" cy="11.9" r="3.5" fill="url(#og)" stroke="#4e4a46" stroke-width="0.9"/>
</svg><svg style="left:0;top:0" width="832" height="320" viewBox="0 0 832 320">
<line x1="579" y1="277.5" x2="656" y2="277.5" stroke="#404040" stroke-width="1"/>
<polygon points="613,272 623.2,277.5 613,283" fill="#404040"/>
</svg><div class="t " style="left:610.2px;top:261px;font-size:10px;line-height:10px;color:#000;letter-spacing:-0.2px;">N1</div><div class="t " style="left:585.8px;top:285px;font-size:10.2px;line-height:10.2px;color:#000;"><span style="color:#808080;letter-spacing:-0.05px">IE1</span><span style="letter-spacing:0.5px;margin-left:-1.1px"> Message</span></div><div class="t " style="left:356.2px;top:264px;font-size:10.4px;line-height:10.4px;color:#808080;">N2</div><div class="t " style="left:334.2px;top:287px;font-size:10.2px;line-height:10.2px;color:#000;"><span style="color:#808080;letter-spacing:-0.05px">IE1</span><span style="letter-spacing:0.5px;margin-left:-1.1px"> Message</span></div><svg style="left:0;top:0" width="832" height="320" viewBox="0 0 832 320">
<polygon points="359,280.5 368,275 368,286" fill="#404040"/>
<line x1="323" y1="280.5" x2="405" y2="280.5" stroke="#ff4040" stroke-width="2" opacity="0.82"/>
</svg><div class="r " style="left:321px;top:254px;width:83px;height:50px;border:2px solid #ff0000;"></div><div class="r " style="left:187px;top:266px;width:109px;height:19px;border:2px solid #ff0000;"></div></div><div class="abs" style="left:1px;top:419px"><div class="r role" style="left:131px;top:252px;width:192px;height:45px;"></div><div class="r role" style="left:404px;top:252px;width:175px;height:45px;"></div><div class="r role" style="left:656px;top:252px;width:167px;height:45px;"></div><div class="t " style="left:179.3px;top:256px;font-size:9px;line-height:9px;color:#000;">«OperationalRole»</div><div class="t " style="left:141.2px;top:268px;font-size:11.6px;line-height:11.6px;color:#000;font-weight:bold;">Person : Person In Distress</div><svg style="left:300px;top:257px" width="17" height="16" viewBox="0 0 17 16">
<defs><radialGradient id="og" cx="0.5" cy="0.6" r="0.6"><stop offset="0" stop-color="#fff2e6"/><stop offset="0.5" stop-color="#ffcfa4"/><stop offset="1" stop-color="#f8b888"/></radialGradient></defs>
<rect x="5.6" y="1.4" width="7" height="3.6" rx="1.5" fill="#ffff8c" stroke="#54544a" stroke-width="0.9"/>
<rect x="2.6" y="5.5" width="6.6" height="3.8" rx="1.6" fill="#f4fbf0" stroke="#545454" stroke-width="0.9"/>
<rect x="9.2" y="5.5" width="6.4" height="3.8" rx="1.6" fill="#f4fbf0" stroke="#545454" stroke-width="0.9"/>
<circle cx="4.1" cy="11.9" r="3.5" fill="url(#og)" stroke="#4e4a46" stroke-width="0.9"/>
</svg><div class="t " style="left:443.0px;top:256px;font-size:9px;line-height:9px;color:#000;">«OperationalRole»</div><div class="t " style="left:417.8px;top:268px;font-size:11.6px;line-height:11.6px;color:#000;font-weight:bold;letter-spacing:-0.17px;">Searcher : Search Node</div><svg style="left:556px;top:257px" width="17" height="16" viewBox="0 0 17 16">
<defs><radialGradient id="og" cx="0.5" cy="0.6" r="0.6"><stop offset="0" stop-color="#fff2e6"/><stop offset="0.5" stop-color="#ffcfa4"/><stop offset="1" stop-color="#f8b888"/></radialGradient></defs>
<rect x="5.6" y="1.4" width="7" height="3.6" rx="1.5" fill="#ffff8c" stroke="#54544a" stroke-width="0.9"/>
<rect x="2.6" y="5.5" width="6.6" height="3.8" rx="1.6" fill="#f4fbf0" stroke="#545454" stroke-width="0.9"/>
<rect x="9.2" y="5.5" width="6.4" height="3.8" rx="1.6" fill="#f4fbf0" stroke="#545454" stroke-width="0.9"/>
<circle cx="4.1" cy="11.9" r="3.5" fill="url(#og)" stroke="#4e4a46" stroke-width="0.9"/>
</svg><div class="t " style="left:691.3px;top:256px;font-size:9px;line-height:9px;color:#000;">«OperationalRole»</div><div class="t " style="left:666.0px;top:268px;font-size:11.6px;line-height:11.6px;color:#000;font-weight:bold;letter-spacing:-0.1px;">Rescuer : Rescue Node</div><svg style="left:800px;top:257px" width="17" height="16" viewBox="0 0 17 16">
<defs><radialGradient id="og" cx="0.5" cy="0.6" r="0.6"><stop offset="0" stop-color="#fff2e6"/><stop offset="0.5" stop-color="#ffcfa4"/><stop offset="1" stop-color="#f8b888"/></radialGradient></defs>
<rect x="5.6" y="1.4" width="7" height="3.6" rx="1.5" fill="#ffff8c" stroke="#54544a" stroke-width="0.9"/>
<rect x="2.6" y="5.5" width="6.6" height="3.8" rx="1.6" fill="#f4fbf0" stroke="#545454" stroke-width="0.9"/>
<rect x="9.2" y="5.5" width="6.4" height="3.8" rx="1.6" fill="#f4fbf0" stroke="#545454" stroke-width="0.9"/>
<circle cx="4.1" cy="11.9" r="3.5" fill="url(#og)" stroke="#4e4a46" stroke-width="0.9"/>
</svg><svg style="left:0;top:0" width="832" height="320" viewBox="0 0 832 320">
<line x1="579" y1="277.5" x2="656" y2="277.5" stroke="#404040" stroke-width="1"/>
<polygon points="613,272 623.2,277.5 613,283" fill="#404040"/>
</svg><div class="t " style="left:610.2px;top:261px;font-size:10px;line-height:10px;color:#000;letter-spacing:-0.2px;">N1</div><div class="t " style="left:585.8px;top:285px;font-size:10.2px;line-height:10.2px;color:#000;"><span style="color:#808080;letter-spacing:-0.05px">IE1</span><span style="letter-spacing:0.5px;margin-left:-1.1px"> Message</span></div><div class="t " style="left:355.8px;top:267px;font-size:10.4px;line-height:10.4px;color:#808080;">N2</div><svg style="left:0;top:0" width="832" height="320" viewBox="0 0 832 320">
<line x1="323" y1="280.5" x2="404.3" y2="280.5" stroke="#404040" stroke-width="1"/>
</svg><div class="r " style="left:323px;top:249px;width:80px;height:48px;border:2px solid #00ee11;"></div><div class="r " style="left:579px;top:251px;width:77px;height:47px;border:2px solid #00ee11;"></div></div><svg style="left:0;top:0" width="832" height="727" viewBox="0 0 832 727"><path d="M175.6 78.5 C 187.1 20.8, 199.8 12.2, 269.7 13.7 L 323 14" stroke="#ff6600" stroke-width="2" stroke-dasharray="2 2" fill="none"/><polygon points="324,9.3 334,14.3 324,19.1" fill="#ff6600"/><path d="M178.1 470.5 L178.1 452 C 180 413.8, 199.1 407, 309.7 407.4 L 330 407" stroke="#ff6600" stroke-width="2" stroke-dasharray="2 2" fill="none"/><polygon points="331,402.1 340.7,406.9 331,411.7" fill="#ff6600"/><path d="M613.5 116.5 C 544.4 134.5, 472.6 143.8, 378.5 249.2" stroke="#ff0000" stroke-width="2" stroke-dasharray="2 2" fill="none"/><polygon points="372.6,256.3 374.6,245.8 382.7,252.5" fill="#ff0000"/><rect x="423" y="329" width="5" height="29" fill="#ff6600"/><polygon points="413,357.2 438,357.2 425.5,382" fill="#ff6600"/><rect x="662.3" y="464" width="2.1" height="18" fill="#ff6600"/><polygon points="658.4,480.6 668.6,480.6 663.4,489.6" fill="#ff6600"/><path d="M647.9 515.6 L 624.4 654" stroke="#00ee11" stroke-width="2" stroke-dasharray="2 2" fill="none"/><polygon points="618.9,654.6 628.9,655.6 622.6,664.8" fill="#00ee11"/></svg>
</div>
</body>
</html>
